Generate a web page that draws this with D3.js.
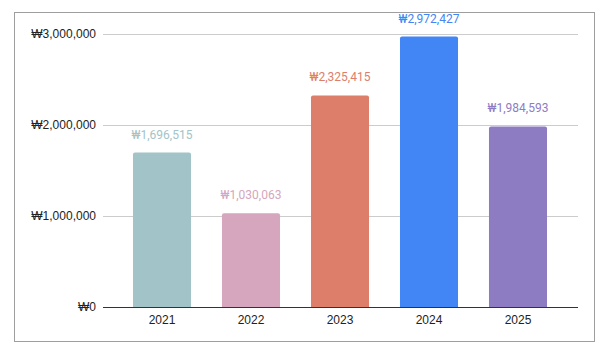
<!DOCTYPE html>
<html>
<head>
<meta charset="utf-8">
<script src="https://cdn.jsdelivr.net/npm/d3@7"></script>
<style>
  body { margin: 0; background: #fff; }
</style>
</head>
<body>
<svg width="609" height="354"></svg>
<script>
// données
const years = ['2021', '2022', '2023', '2024', '2025']
const amounts = [1696515, 1030063, 2325415, 2972427, 1984593]
const colors = ['#a2c4c9', '#d5a6bd', '#dd7e6b', '#4285f4', '#8e7cc3']
const yTicks = [0, 1000000, 2000000, 3000000]

const svg = d3.select('svg')

// cadre
svg.append('rect')
    .attr('x', 14.5)
    .attr('y', 12.5)
    .attr('width', 580)
    .attr('height', 329)
    .attr('fill', 'none')
    .attr('stroke', '#9e9e9e')
    .attr('stroke-width', 1)

const plotLeft = 103, plotRight = 578
const y = d3.scaleLinear()
    .domain([0, 3000000])
    .range([307, 34])

const x = d3.scaleBand()
    .domain(years)
    .range([117.5, 562.5])
    .paddingInner(0.348)
    .paddingOuter(0.174)

const won = v => '₩' + d3.format(',')(v)

// grille
svg.append('g')
    .selectAll('line')
    .data(yTicks.slice(1))
    .enter()
    .append('line')
    .attr('x1', plotLeft)
    .attr('x2', plotRight)
    .attr('y1', d => Math.round(y(d)) + 0.5)
    .attr('y2', d => Math.round(y(d)) + 0.5)
    .attr('stroke', '#cccccc')

// axe Y
const yAxis = svg.append('g')
    .attr('transform', `translate(${plotLeft},0)`)
    .call(d3.axisLeft(y).tickValues(yTicks).tickFormat(won).tickSize(0).tickPadding(7))
yAxis.select('.domain').remove()
yAxis.selectAll('text')
    .attr('font-family', 'Liberation Sans, Arial, sans-serif')
    .attr('font-size', 12)
    .attr('fill', '#222')

// barres
const r = 2
svg.append('g')
    .selectAll('path')
    .data(years)
    .enter()
    .append('path')
    .attr('d', (d, i) => {
        const x0 = x(d), w = x.bandwidth(), t = y(amounts[i]), b = y(0)
        return `M${x0},${b}V${t + r}Q${x0},${t} ${x0 + r},${t}H${x0 + w - r}Q${x0 + w},${t} ${x0 + w},${t + r}V${b}Z`
    })
    .attr('fill', (d, i) => colors[i])

// étiquettes
svg.append('g')
    .selectAll('text')
    .data(years)
    .enter()
    .append('text')
    .attr('x', d => x(d) + x.bandwidth() / 2)
    .attr('y', (d, i) => y(amounts[i]) - 14)
    .attr('text-anchor', 'middle')
    .attr('font-family', 'Roboto, sans-serif')
    .attr('font-size', 12)
    .attr('fill', (d, i) => colors[i])
    .text((d, i) => won(amounts[i]))

// axe X
const xAxis = svg.append('g')
    .attr('transform', `translate(0,${y(0)})`)
    .call(d3.axisBottom(x).tickSize(0).tickPadding(8))
xAxis.select('.domain').remove()
xAxis.selectAll('text')
    .attr('font-family', 'Liberation Sans, Arial, sans-serif')
    .attr('font-size', 12)
    .attr('fill', '#222')

svg.append('line')
    .attr('x1', plotLeft)
    .attr('x2', plotRight)
    .attr('y1', Math.round(y(0)) + 0.5)
    .attr('y2', Math.round(y(0)) + 0.5)
    .attr('stroke', '#333')
</script>
</body>
</html>
